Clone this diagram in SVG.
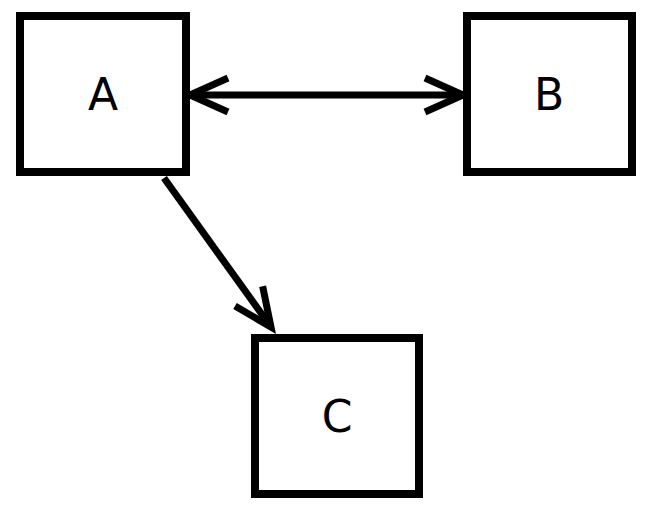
<svg xmlns="http://www.w3.org/2000/svg" width="655" height="512" viewBox="0 0 655 512">
<style>
.n{fill:#fff;stroke:#000;stroke-width:8}
text{font-family:"DejaVu Sans",sans-serif;font-size:44px;text-anchor:middle;fill:#000}
.c{stroke:#000;stroke-width:7;fill:none}
</style>
<defs>
<marker id="v" refX="0" refY="0" markerWidth="10" markerHeight="10" markerUnits="userSpaceOnUse" orient="auto-start-reverse" overflow="visible">
<path d="M-38,-17 L0,0 L-38,17" stroke="#000" stroke-width="7" fill="none"/>
</marker>
</defs>
<rect width="655" height="512" fill="#fff"/>
<g id="connectors">
<line class="c" x1="190" y1="95" x2="463" y2="95" marker-start="url(#v)" marker-end="url(#v)"/>
<line class="c" x1="164" y1="178" x2="271" y2="327" marker-end="url(#v)"/>
</g>
<g id="A"><rect class="n" x="20" y="16" width="166" height="156"/><text x="103" y="110">A</text></g>
<g id="B"><rect class="n" x="467" y="16" width="165" height="156"/><text x="549" y="110">B</text></g>
<g id="C"><rect class="n" x="255" y="338" width="164" height="156"/><text x="337" y="432">C</text></g>
</svg>
